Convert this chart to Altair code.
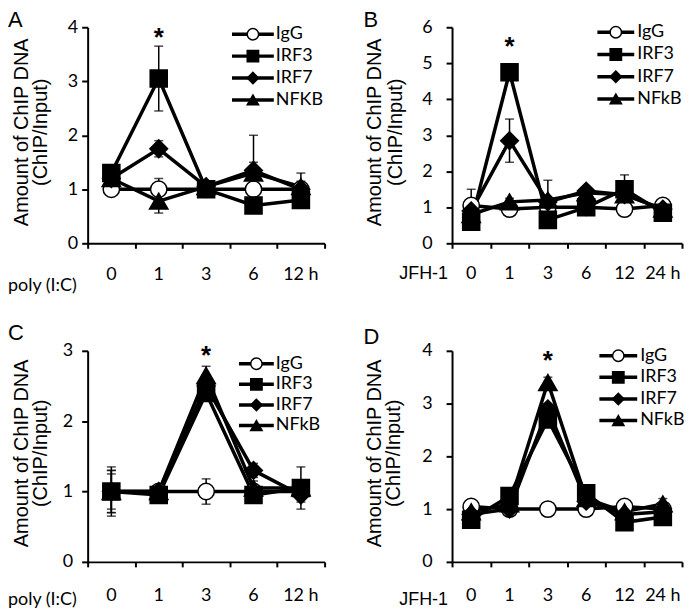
import altair as alt
import pandas as pd

# ---------------- data ----------------
SERIES_KEYS = ["IgG", "IRF3", "IRF7", "NFkB"]
SHAPES = ["circle", "square", "diamond", "triangle-up"]
FILLS = ["white", "black", "black", "black"]
SIZES = [270, 340, 300, 290]
Y_TITLE = ["Amount of ChIP DNA", "(ChIP/Input)"]

# Panel A : poly (I:C), time course
A_TIMES = ["0", "1", "3", "6", "12 h"]
A_IGG = [1.0, 1.0, 1.0, 1.0, 1.0]
A_IRF3 = [1.3, 3.05, 1.0, 0.7, 0.8]
A_IRF7 = [1.2, 1.75, 1.05, 1.35, 1.0]
A_NFKB = [1.2, 0.78, 1.05, 1.3, 1.05]
A_IGG_ERR = [0.05, 0.2, 0.05, 0.05, 0.05]
A_IRF3_ERR = [0.15, 0.6, 0.1, 0.1, 0.15]
A_IRF7_ERR = [0.1, 0.15, 0.1, 0.65, 0.3]
A_NFKB_ERR = [0.1, 0.22, 0.1, 0.2, 0.1]
A_NAMES = ["IgG", "IRF3", "IRF7", "NFKB"]

# Panel B : JFH-1, time course
B_TIMES = ["0", "1", "3", "6", "12", "24 h"]
B_IGG = [1.05, 0.95, 1.0, 1.0, 0.95, 1.05]
B_IRF3 = [0.6, 4.75, 0.65, 1.0, 1.5, 0.85]
B_IRF7 = [0.9, 2.85, 1.15, 1.45, 1.35, 0.95]
B_NFKB = [0.8, 1.15, 1.2, 1.4, 1.35, 0.95]
B_IGG_ERR = [0.45, 0.1, 0.1, 0.1, 0.1, 0.05]
B_IRF3_ERR = [0.2, 0.15, 0.1, 0.1, 0.4, 0.1]
B_IRF7_ERR = [0.2, 0.6, 0.1, 0.1, 0.1, 0.1]
B_NFKB_ERR = [0.2, 0.1, 0.55, 0.1, 0.1, 0.1]
B_NAMES = ["IgG", "IRF3", "IRF7", "NFkB"]

# Panel C : poly (I:C)
C_TIMES = ["0", "1", "3", "6", "12 h"]
C_IGG = [1.0, 1.0, 1.0, 1.0, 1.0]
C_IRF3 = [1.0, 0.95, 2.4, 0.95, 1.05]
C_IRF7 = [1.0, 1.0, 2.5, 1.3, 0.95]
C_NFKB = [1.0, 1.0, 2.65, 1.05, 1.05]
C_IGG_ERR = [0.3, 0.05, 0.18, 0.05, 0.1]
C_IRF3_ERR = [0.35, 0.05, 0.1, 0.1, 0.1]
C_IRF7_ERR = [0.3, 0.05, 0.1, 0.1, 0.1]
C_NFKB_ERR = [0.25, 0.05, 0.13, 0.1, 0.3]
C_NAMES = ["IgG", "IRF3", "IRF7", "NFkB"]

# Panel D : JFH-1
D_TIMES = ["0", "1", "3", "6", "12", "24 h"]
D_IGG = [1.05, 1.0, 1.0, 1.0, 1.05, 1.0]
D_IRF3 = [0.8, 1.25, 2.7, 1.3, 0.75, 0.85]
D_IRF7 = [0.9, 1.0, 2.9, 1.15, 0.9, 0.95]
D_NFKB = [0.95, 1.1, 3.4, 1.2, 0.95, 1.1]
D_IGG_ERR = [0.05, 0.05, 0.05, 0.05, 0.05, 0.05]
D_IRF3_ERR = [0.1, 0.1, 0.1, 0.1, 0.1, 0.1]
D_IRF7_ERR = [0.1, 0.1, 0.1, 0.1, 0.1, 0.1]
D_NFKB_ERR = [0.1, 0.1, 0.1, 0.1, 0.1, 0.1]
D_NAMES = ["IgG", "IRF3", "IRF7", "NFkB"]

# significance markers (time index, height)
STAR_A = (1, 3.9)
STAR_B = (1, 5.6)
STAR_C = (2, 3.0)
STAR_D = (2, 3.9)

shape_scale = alt.Scale(domain=SERIES_KEYS, range=SHAPES)
fill_scale = alt.Scale(domain=SERIES_KEYS, range=FILLS)
size_scale = alt.Scale(domain=SERIES_KEYS, range=SIZES)


def panel(letter, letter_pos, times, vals, errs, names, ymax, star, width, height,
          xtitle, xtitle_font, xtitle_pos, label_dy, ytitle_x, ylabel_pad,
          leg_rows, leg_x):
    n = len(times)
    rows = []
    for key, v, e in zip(SERIES_KEYS, vals, errs):
        for i, (yv, ev) in enumerate(zip(v, e)):
            rows.append(dict(series=key, idx=i, value=yv, lo=yv - ev, hi=yv + ev))
    df = pd.DataFrame(rows)

    xscale = alt.Scale(domain=[-0.5, n - 0.5], nice=False, zero=False)
    xaxis = alt.Axis(
        values=[i - 0.5 for i in range(n + 1)], labels=False, title=None,
        grid=False, domainColor="black", domainWidth=2, tickColor="black",
        tickWidth=2, tickSize=5,
    )
    yscale = alt.Scale(domain=[0, ymax], nice=False)
    yaxis = alt.Axis(
        values=list(range(ymax + 1)), format="d", grid=False, title=None,
        domainColor="black", domainWidth=2, tickColor="black", tickWidth=2,
        tickSize=6, labelPadding=ylabel_pad, labelFont="Lato", labelFontSize=18,
        labelColor="black",
    )
    X = alt.X("idx:Q", scale=xscale, axis=xaxis, title=None)

    def Y(field):
        return alt.Y(field, scale=yscale, axis=yaxis, title=None)

    base = alt.Chart(df)
    lines = base.mark_line(color="black", strokeWidth=3.5).encode(
        x=X, y=Y("value:Q"), detail="series:N", order="idx:Q")
    rule = base.mark_rule(color="black", strokeWidth=1.5).encode(
        x=X, y=Y("lo:Q"), y2="hi:Q")
    cap_hi = base.mark_tick(color="black", thickness=1.5, size=9,
                            orient="horizontal").encode(x=X, y=Y("hi:Q"))
    cap_lo = base.mark_tick(color="black", thickness=1.5, size=9,
                            orient="horizontal").encode(x=X, y=Y("lo:Q"))
    points = base.mark_point(filled=True, stroke="black", strokeWidth=1.5,
                             opacity=1).encode(
        x=X, y=Y("value:Q"),
        shape=alt.Shape("series:N", scale=shape_scale, legend=None),
        fill=alt.Fill("series:N", scale=fill_scale, legend=None),
        size=alt.Size("series:N", scale=size_scale, legend=None),
    )
    sdf = pd.DataFrame({"idx": [star[0]], "value": [star[1]], "t": ["*"]})
    star_mark = alt.Chart(sdf).mark_text(
        font="Liberation Sans", fontSize=26, fontWeight="bold",
        baseline="alphabetic", dy=13, color="black").encode(
        x=X, y=Y("value:Q"), text="t:N")

    tdf = pd.DataFrame({"idx": list(range(n)), "label": times})
    tick_labels = alt.Chart(tdf).mark_text(
        font="Lato", fontSize=18, color="black", baseline="middle",
        align="center").encode(x=X, y=alt.value(height + label_dy), text="label:N")

    odf = pd.DataFrame({"t": [xtitle, letter],
                        "kind": ["xtitle", "letter"]})
    xt = alt.Chart(odf).transform_filter(alt.datum.kind == "xtitle").mark_text(
        font=xtitle_font, fontSize=18, color="black", baseline="middle",
        align="left").encode(x=alt.value(xtitle_pos[0]), y=alt.value(height + xtitle_pos[1]),
                             text="t:N")
    lt = alt.Chart(odf).transform_filter(alt.datum.kind == "letter").mark_text(
        font="Liberation Sans", fontSize=22, color="black", baseline="top",
        align="left").encode(x=alt.value(letter_pos[0]), y=alt.value(letter_pos[1]),
                             text="t:N")

    ytdf = pd.DataFrame({"t": Y_TITLE})
    yt1 = alt.Chart(ytdf).transform_filter(alt.datum.t == Y_TITLE[0]).mark_text(
        font="Liberation Sans", fontSize=20, color="black", angle=270,
        align="center", baseline="middle").encode(
        x=alt.value(ytitle_x[0]), y=alt.value(height / 2 - 3), text="t:N")
    yt2 = alt.Chart(ytdf).transform_filter(alt.datum.t == Y_TITLE[1]).mark_text(
        font="Liberation Sans", fontSize=20, color="black", angle=270,
        align="center", baseline="middle").encode(
        x=alt.value(ytitle_x[1]), y=alt.value(height / 2 - 3), text="t:N")

    main = alt.layer(lines, rule, cap_hi, cap_lo, points, star_mark, tick_labels,
                     xt, lt, yt1, yt2)

    ldf = pd.DataFrame({"series": SERIES_KEYS, "name": names, "row": [0, 1, 2, 3]})
    leg_y = alt.Y("row:Q", scale=alt.Scale(domain=[0, 3], range=[leg_rows[0], leg_rows[1]]),
                  axis=None)
    leg_line = alt.Chart(ldf).mark_rule(color="black", strokeWidth=3.5).encode(
        x=alt.value(leg_x[0]), x2=alt.value(leg_x[1]), y=leg_y)
    leg_pt = alt.Chart(ldf).mark_point(filled=True, stroke="black", strokeWidth=1.5,
                                       opacity=1).encode(
        x=alt.value((leg_x[0] + leg_x[1]) / 2), y=leg_y,
        shape=alt.Shape("series:N", scale=shape_scale, legend=None),
        fill=alt.Fill("series:N", scale=fill_scale, legend=None),
        size=alt.value(130),
    )
    leg_txt = alt.Chart(ldf).mark_text(align="left", baseline="middle", font="Lato",
                                       fontSize=18, color="black").encode(
        x=alt.value(leg_x[2]), y=leg_y, text="name:N")
    legend = alt.layer(leg_line, leg_pt, leg_txt)

    return alt.layer(main, legend).resolve_scale(y="independent").properties(
        width=width, height=height)


pA = panel("A", (-80, -17), A_TIMES, [A_IGG, A_IRF3, A_IRF7, A_NFKB],
           [A_IGG_ERR, A_IRF3_ERR, A_IRF7_ERR, A_NFKB_ERR], A_NAMES, 4, STAR_A,
           238, 217, "poly (I:C)", "Lato", (-80, 43), 32, (-66, -47), 4,
           (7, 73), (145, 187, 189))
pB = panel("B", (-89, -17), B_TIMES, [B_IGG, B_IRF3, B_IRF7, B_NFKB],
           [B_IGG_ERR, B_IRF3_ERR, B_IRF7_ERR, B_NFKB_ERR], B_NAMES, 6, STAR_B,
           231, 217, "JFH-1", "Liberation Sans", (-53, 31), 31, (-77, -56), 14,
           (5, 72), (146, 183, 186))
pC = panel("C", (-80, -28), C_TIMES, [C_IGG, C_IRF3, C_IRF7, C_NFKB],
           [C_IGG_ERR, C_IRF3_ERR, C_IRF7_ERR, C_NFKB_ERR], C_NAMES, 3, STAR_C,
           238, 212, "poly (I:C)", "Lato", (-80, 38), 34, (-66, -47), 9,
           (13, 75), (152, 187, 189))
pD = panel("D", (-89, -24), D_TIMES, [D_IGG, D_IRF3, D_IRF7, D_NFKB],
           [D_IGG_ERR, D_IRF3_ERR, D_IRF7_ERR, D_NFKB_ERR], D_NAMES, 4, STAR_D,
           231, 212, "JFH-1", "Liberation Sans", (-53, 38), 34, (-77, -58), 14,
           (5, 70), (148, 186, 189))

chart = alt.concat(pA, pB, pC, pD, columns=2,
                   spacing={"row": 108, "column": 128},
                   bounds="flush").properties(
    padding={"left": 0, "top": 0, "right": 0, "bottom": 0}
).configure_view(stroke=None)

chart.save("out.html", embed_options={"renderer": "svg", "actions": False})
